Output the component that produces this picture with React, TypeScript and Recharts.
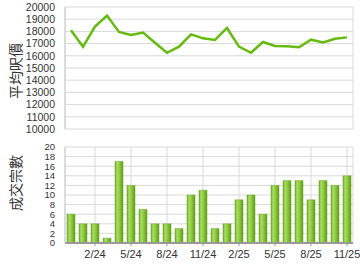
import React from "react";
import { Bar, BarChart, CartesianGrid, Line, LineChart, XAxis, YAxis } from "recharts";

const months = [
  "12/23", "1/24", "2/24", "3/24", "4/24", "5/24", "6/24", "7/24", "8/24", "9/24", "10/24", "11/24",
  "12/24", "1/25", "2/25", "3/25", "4/25", "5/25", "6/25", "7/25", "8/25", "9/25", "10/25", "11/25"
];
const avgPrice = [
  18100, 16750, 18400, 19300, 17950, 17700, 17900, 17070, 16250, 16750, 17760, 17430,
  17300, 18280, 16750, 16250, 17130, 16800, 16780, 16700, 17320, 17100, 17400, 17510
];
const deals = [6, 4, 4, 1, 17, 12, 7, 4, 4, 3, 10, 11, 3, 4, 9, 10, 6, 12, 13, 13, 9, 13, 12, 14];
const monthTicks = ["2/24", "5/24", "8/24", "11/24", "2/25", "5/25", "8/25", "11/25"];
const priceTicks = [10000, 11000, 12000, 13000, 14000, 15000, 16000, 17000, 18000, 19000, 20000];
const dealTicks = [0, 2, 4, 6, 8, 10, 12, 14, 16, 18, 20];

const data = months.map((m, i) => ({ month: m, price: avgPrice[i], deals: deals[i] }));

const font = "'Liberation Sans', Arial, sans-serif";
const tickStyle = { fill: "#333", fontSize: 10.5, fontFamily: font };

function AxisTitle({ text, top }: { text: string; top: number }) {
  return (
    <div
      style={{
        position: "absolute",
        left: 15,
        top,
        transform: "translate(-50%, -50%) rotate(-90deg)",
        fontFamily: "'Noto Sans CJK TC', sans-serif",
        fontSize: 14,
        lineHeight: "16px",
        color: "#333",
        whiteSpace: "nowrap"
      }}
    >
      {text}
    </div>
  );
}

export default function App() {
  return (
    <div style={{ position: "absolute", left: 0, top: 0, width: 360, height: 270, background: "#fff" }}>
      <AxisTitle text="平均呎價" top={71} />
      <AxisTitle text="成交宗數" top={183} />

      <div style={{ position: "absolute", left: 0, top: 0 }}>
        <LineChart width={360} height={135} data={data} margin={{ top: 7, right: 7, bottom: 6, left: 0 }}>
          <CartesianGrid stroke="#d9d9d9" strokeWidth={1} />
          <XAxis
            dataKey="month"
            ticks={monthTicks}
            interval={0}
            height={0}
            padding={{ left: 6, right: 6 }}
            tick={false}
            tickLine={false}
            axisLine={{ stroke: "#999", strokeWidth: 2 }}
          />
          <YAxis
            width={65}
            domain={[10000, 20000]}
            ticks={priceTicks}
            interval={0}
            tickLine={false}
            tickSize={0}
            tickMargin={10}
            axisLine={{ stroke: "#ccc", strokeWidth: 1 }}
            tick={tickStyle}
          />
          <Line
            type="linear"
            dataKey="price"
            stroke="#66bb11"
            strokeWidth={2.5}
            dot={false}
            isAnimationActive={false}
          />
        </LineChart>
      </div>

      <div style={{ position: "absolute", left: 0, top: 135 }}>
        <BarChart width={360} height={135} data={data} margin={{ top: 12, right: 7, bottom: 7, left: 0 }}>
          <defs>
            <linearGradient id="barGrad" x1="0" y1="0" x2="1" y2="0">
              <stop offset="0%" stopColor="#6aa820" />
              <stop offset="25%" stopColor="#abdc66" />
              <stop offset="55%" stopColor="#8fcc40" />
              <stop offset="100%" stopColor="#5e9c12" />
            </linearGradient>
          </defs>
          <CartesianGrid stroke="#d9d9d9" strokeWidth={1} />
          <XAxis
            dataKey="month"
            ticks={monthTicks}
            interval={0}
            height={20}
            tickSize={3}
            tickMargin={4}
            tickLine={{ stroke: "#999" }}
            axisLine={{ stroke: "#999", strokeWidth: 2 }}
            tick={{ ...tickStyle, fontSize: 11 }}
          />
          <YAxis
            width={65}
            domain={[0, 20]}
            ticks={dealTicks}
            interval={0}
            tickLine={false}
            tickSize={0}
            tickMargin={10}
            axisLine={{ stroke: "#ccc", strokeWidth: 1 }}
            tick={{ ...tickStyle, fontSize: 9.5 }}
          />
          <Bar dataKey="deals" barSize={8} fill="url(#barGrad)" stroke="#6aaa22" strokeWidth={0.5} isAnimationActive={false} />
        </BarChart>
      </div>
    </div>
  );
}
